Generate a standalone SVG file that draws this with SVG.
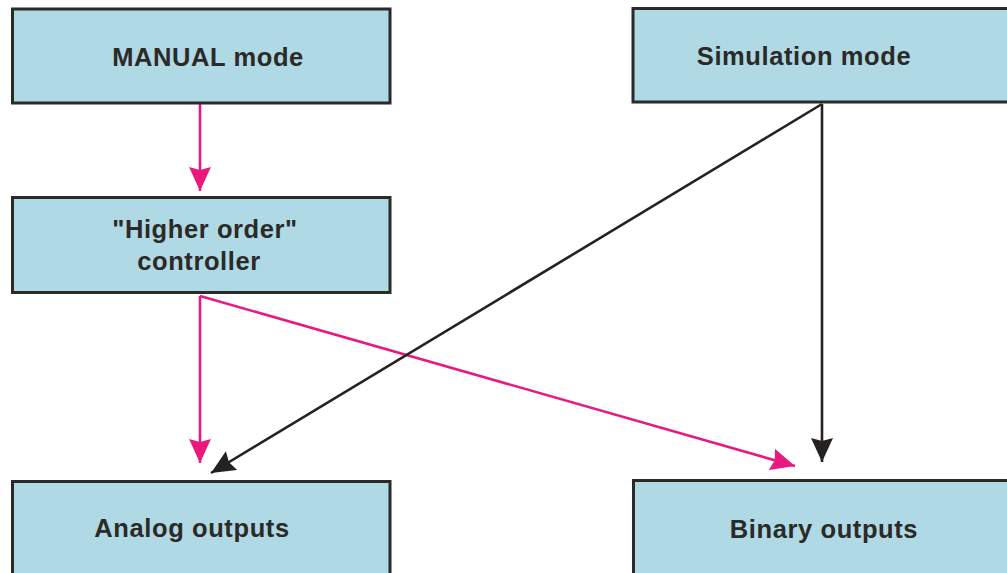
<svg xmlns="http://www.w3.org/2000/svg" width="1007" height="573" viewBox="0 0 1007 573">
<style>
.box{fill:#afd9e5;stroke:#2b2a27;stroke-width:3}
.lbl{font-family:"Liberation Sans",Arial,sans-serif;font-weight:bold;font-size:25.5px;letter-spacing:0.6px;fill:#2b2a27;text-anchor:middle}
.pink{stroke:#e8197f;stroke-width:2.6;fill:none}
.blk{stroke:#25221f;stroke-width:2.6;fill:none}
</style>
<defs>
<marker id="ap" viewBox="0 0 24 22" refX="24" refY="11" markerWidth="24" markerHeight="22" markerUnits="userSpaceOnUse" orient="auto">
<path d="M0,0 L24,11 L0,22 L3,11 z" fill="#e8197f"/>
</marker>
<marker id="ab" viewBox="0 0 24 22" refX="24" refY="11" markerWidth="24" markerHeight="22" markerUnits="userSpaceOnUse" orient="auto">
<path d="M0,0 L24,11 L0,22 L3,11 z" fill="#25221f"/>
</marker>
</defs>
<rect width="1007" height="573" fill="#ffffff"/>
<g id="connectors">
<line class="pink" x1="200" y1="104" x2="200" y2="191" marker-end="url(#ap)"/>
<line class="pink" x1="200" y1="296" x2="200" y2="463" marker-end="url(#ap)"/>
<line class="pink" x1="200" y1="296" x2="795" y2="466" marker-end="url(#ap)"/>
<line class="blk" x1="822" y1="104" x2="822" y2="462" marker-end="url(#ab)"/>
<line class="blk" x1="822" y1="104" x2="211" y2="473" marker-end="url(#ab)"/>
</g>
<g id="manual">
<rect class="box" x="12.5" y="9" width="377.5" height="94"/>
<text class="lbl" x="208" y="66">MANUAL mode</text>
</g>
<g id="simulation">
<rect class="box" x="633" y="8.5" width="400" height="93.5"/>
<text class="lbl" x="804" y="65">Simulation mode</text>
</g>
<g id="controller">
<rect class="box" x="12.5" y="197.5" width="377.5" height="95"/>
<text class="lbl" x="205" y="238">"Higher order"</text>
<text class="lbl" x="199" y="270">controller</text>
</g>
<g id="analog">
<rect class="box" x="12.5" y="481.5" width="377.5" height="120"/>
<text class="lbl" x="192" y="537">Analog outputs</text>
</g>
<g id="binary">
<rect class="box" x="633.5" y="480.5" width="400" height="120"/>
<text class="lbl" x="824" y="538">Binary outputs</text>
</g>
</svg>
